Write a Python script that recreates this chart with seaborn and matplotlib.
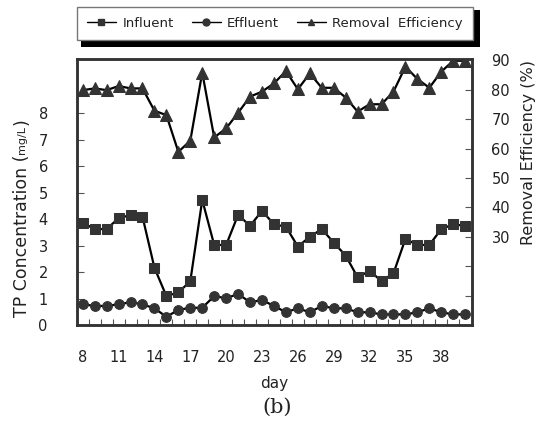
import matplotlib
matplotlib.use("Agg")
import matplotlib.pyplot as plt
import seaborn as sns
import pandas as pd
from matplotlib.lines import Line2D
from matplotlib.patches import Rectangle

# ---- data ----
days = list(range(8, 41))
influent = [3.86, 3.62, 3.62, 4.03, 4.15, 4.09, 2.16, 1.09, 1.23, 1.65, 4.72,
            3.02, 3.02, 4.16, 3.74, 4.31, 3.80, 3.71, 2.96, 3.33, 3.62, 3.11,
            2.62, 1.80, 2.04, 1.66, 1.95, 3.25, 3.02, 3.02, 3.62, 3.80, 3.74]
effluent = [0.78, 0.72, 0.72, 0.78, 0.86, 0.78, 0.63, 0.31, 0.57, 0.65, 0.65,
            1.09, 1.01, 1.17, 0.86, 0.94, 0.72, 0.48, 0.63, 0.48, 0.72, 0.63,
            0.63, 0.48, 0.48, 0.40, 0.40, 0.40, 0.48, 0.63, 0.48, 0.40, 0.40]
removal = [79.9, 80.5, 79.9, 81.3, 80.5, 80.5, 72.9, 71.4, 58.9, 62.7, 85.9,
           63.8, 66.9, 72.2, 77.7, 79.4, 82.2, 86.4, 80.2, 85.6, 80.7, 80.7,
           77.4, 72.6, 75.1, 75.1, 79.4, 87.9, 83.7, 80.7, 86.2, 89.9, 89.9]
series_names = ["Influent", "Effluent", "Removal  Efficiency"]
xtick_days = [8, 11, 14, 17, 20, 23, 26, 29, 32, 35, 38]
left_ticks = [0, 1, 2, 3, 4, 5, 6, 7, 8]
right_ticks = [30, 40, 50, 60, 70, 80, 90]

df = pd.DataFrame({"day": days, "influent": influent,
                   "effluent": effluent, "removal": removal})

sns.set_theme(style="white")
plt.rcParams["font.family"] = ["DejaVu Sans"]

W, H = 542, 423
fig = plt.figure(figsize=(W / 100, H / 100), dpi=100)
ax = fig.add_axes([77 / W, 1 - 325 / H, 395 / W, 266 / H])
ax2 = ax.twinx()

dark = "#333333"
txt = "#222222"
line_kw = dict(color="black", linewidth=1.6, markeredgecolor=dark,
               markerfacecolor=dark, legend=False)
sns.lineplot(data=df, x="day", y="influent", ax=ax, marker="s",
             markersize=7, **line_kw)
sns.lineplot(data=df, x="day", y="effluent", ax=ax, marker="o",
             markersize=7, **line_kw)
sns.lineplot(data=df, x="day", y="removal", ax=ax2, marker="^",
             markersize=8.5, **line_kw)

ax.set_xlim(7.52, 40.57)
ax.set_ylim(0, 10.04)
ax2.set_ylim(0, 90.5)
ax.set_xlabel("")
ax.set_ylabel("")
ax2.set_ylabel("")

for a in (ax, ax2):
    for s in a.spines.values():
        s.set_color(dark)
        s.set_linewidth(1.8)
        s.set_visible(True)

ax.set_xticks(xtick_days)
ax.set_xticklabels([str(d) for d in xtick_days])
ax.set_xticks([d + 0.5 for d in days[:-1]], minor=True)
ax.tick_params(axis="x", which="major", length=0, pad=18, labelsize=10.5,
               colors=txt)
ax.tick_params(axis="x", which="minor", bottom=True, direction="in",
               length=4, width=0.8, color="#555555")

ax.set_yticks(left_ticks)
ax.tick_params(axis="y", which="major", left=True, direction="in", length=5,
               width=0.8, color="#555555", pad=21, labelsize=10.5,
               labelcolor=txt)

ax2.set_yticks([10, 20] + right_ticks)
ax2.set_yticklabels(["", ""] + [str(v) for v in right_ticks])
ax2.tick_params(axis="y", which="major", right=True, direction="in",
                length=5, width=0.8, color="#555555", pad=14,
                labelsize=10.5, labelcolor=txt)
ax.grid(False)
ax2.grid(False)

# x label and caption
fig.text(274 / W, 1 - 383 / H, "day", ha="center", va="center",
         fontsize=11, color=txt)
fig.text(277 / W, 1 - 407 / H, "(b)", ha="center", va="center",
         fontsize=15, family=["DejaVu Serif"], color=txt)

# right y label
fig.text(528 / W, 1 - 152 / H, "Removal Efficiency (%)", rotation=90,
         ha="center", va="center", fontsize=11.5, color=txt)

# left y label with small unit
r = fig.canvas.get_renderer()
xl = 22 / W
t1 = fig.text(xl, 1 - 317 / H, "TP Concentration (", rotation=90,
              ha="center", va="bottom", fontsize=12.5, color=txt)
bb1 = t1.get_window_extent(r)
t2 = fig.text(xl - 0.3 / W, bb1.y1 / H + 1 / H, "mg/L", rotation=90,
              ha="center", va="bottom", fontsize=8, color=txt)
bb2 = t2.get_window_extent(r)
fig.text(xl, bb2.y1 / H + 1 / H, ")", rotation=90, ha="center",
         va="bottom", fontsize=12.5, color=txt)

# legend with black shadow
fig.patches.append(Rectangle((81 / W, 1 - 47 / H), 399 / W, 37 / H,
                             transform=fig.transFigure, facecolor="black",
                             edgecolor="none", zorder=1))
markers = ["s", "o", "^"]
handles = [Line2D([], [], color="black", linewidth=1.0, marker=m,
                  markersize=5, markerfacecolor=dark, markeredgecolor=dark)
           for m in markers]
leg = fig.legend(handles, series_names, loc="center",
                 bbox_to_anchor=(77 / W, 1 - 40 / H, 396 / W, 33 / H),
                 mode="expand", ncol=3, frameon=True, fancybox=False,
                 fontsize=9.5, handlelength=2.2, handletextpad=0.5,
                 borderaxespad=0, borderpad=0.75, columnspacing=1.5)
leg.get_frame().set_edgecolor("#777777")
leg.get_frame().set_linewidth(1.0)
leg.get_frame().set_facecolor("white")
leg.get_frame().set_alpha(1)
leg.set_zorder(5)
for t in leg.get_texts():
    t.set_color(txt)

fig.savefig("out.png", dpi=100)
